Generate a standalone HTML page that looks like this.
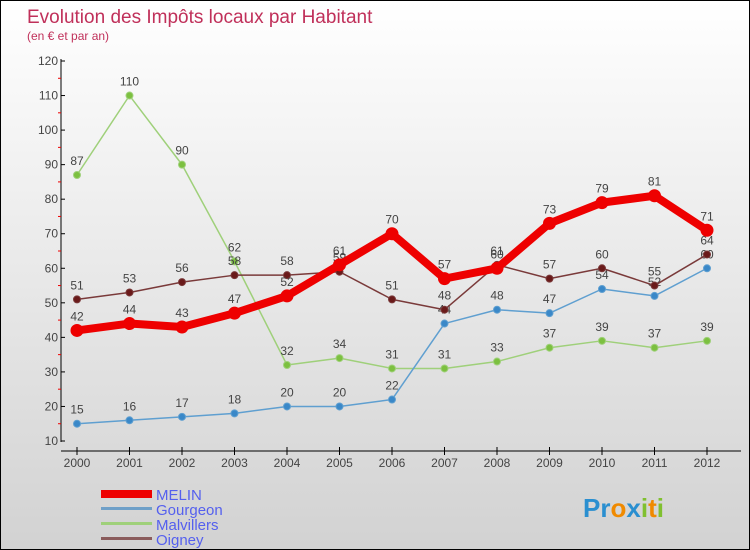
<!DOCTYPE html>
<html><head><meta charset="utf-8"><style>
body{margin:0}
#c{position:relative;width:748px;height:548px;border:1px solid #000;background:linear-gradient(#fff,#d2d2d2);font-family:"Liberation Sans",sans-serif;overflow:hidden}
</style></head><body>
<div id="c">
<svg width="748" height="548">
<text x="26" y="22" font-size="19" fill="#c0305a">Evolution des Impôts locaux par Habitant</text>
<text x="26" y="39" font-size="12" fill="#c0305a">(en € et par an)</text>
<g id="axes"></g><g id="series"></g>
<g>
<rect x="100" y="489" width="51" height="8" fill="#e00"/>
<text x="155" y="499" font-size="15" fill="#5560ee">MELIN</text>
<rect x="100" y="506" width="51" height="3" fill="#6fa0c8"/>
<text x="155" y="514" font-size="15" fill="#5560ee">Gourgeon</text>
<rect x="100" y="521" width="51" height="3" fill="#9fd07a"/>
<text x="155" y="529" font-size="15" fill="#5560ee">Malvillers</text>
<rect x="100" y="536" width="51" height="3" fill="#8a5c5c"/>
<text x="155" y="544" font-size="15" fill="#5560ee">Oigney</text>
</g>
<text x="582" y="516" font-size="26" font-weight="bold"><tspan fill="#2a8fd0">Pr</tspan><tspan fill="#f08a00">o</tspan><tspan fill="#2a8fd0">x</tspan><tspan fill="#80c030">i</tspan><tspan fill="#f08a00">t</tspan><tspan fill="#80c030">i</tspan></text>
</svg>
</div>
<script>
const years=["2000","2001","2002","2003","2004","2005","2006","2007","2008","2009","2010","2011","2012"];
const yTicks=[10,20,30,40,50,60,70,80,90,100,110,120];
const melin=[42,44,43,47,52,61,70,57,60,73,79,81,71];
const gourgeon=[15,16,17,18,20,20,22,44,48,47,54,52,60];
const malvillers=[87,110,90,62,32,34,31,31,33,37,39,37,39];
const oigney=[51,53,56,58,58,59,51,48,61,57,60,55,64];
const NS="http://www.w3.org/2000/svg";
const x=i=>76+i*52.5, y=v=>440-(v-10)*380/110;
function mk(t,a,p){const e=document.createElementNS(NS,t);for(const k in a)e.setAttribute(k,a[k]);p.appendChild(e);return e;}
const ax=document.getElementById('axes');
let e=mk('line',{x1:60,y1:58,x2:60,y2:441,stroke:'#000'},ax);


e=mk('line',{x1:60,y1:450,x2:740,y2:450,stroke:'#000'},ax);


yTicks.forEach((v,i)=>{
 mk('line',{x1:60,x2:64,y1:y(v),y2:y(v),stroke:'#000'},ax);
 if(i<yTicks.length-1) mk('line',{x1:57,x2:60,y1:y(v+5),y2:y(v+5),stroke:'#e00'},ax);
 const t=mk('text',{x:57,y:y(v)+4,'font-size':12,fill:'#444','text-anchor':'end'},ax);t.textContent=v;
 
 
});
years.forEach((yr,i)=>{
 mk('line',{x1:x(i),x2:x(i),y1:446,y2:454,stroke:'#000'},ax);
 const t=mk('text',{x:x(i),y:466,'font-size':12,fill:'#444','text-anchor':'middle'},ax);t.textContent=yr;
 
 
});
const sg=document.getElementById('series');
function draw(name,data,col,w,r,dot){
 const g=mk('g',{},sg);
 
 
 const p=mk('polyline',{points:data.map((v,i)=>x(i)+','+y(v)).join(' '),fill:'none',stroke:col,'stroke-width':w,'stroke-linejoin':'round'},g);
 
 
 data.forEach((v,i)=>{
  const c=mk('circle',{cx:x(i),cy:y(v),r:r,fill:dot,stroke:col,'stroke-width':1},g);
  
  
  const t=mk('text',{x:x(i),y:y(v)-10,'font-size':12,fill:'#444','text-anchor':'middle'},g);t.textContent=v;
  
  
 });
}
draw('malvillers',malvillers,'#9fd07a',1.5,3.5,'#7cc040');
draw('gourgeon',gourgeon,'#5f9fd0',1.5,3.5,'#3a88c8');
draw('oigney',oigney,'#7a3a3a',1.5,3.5,'#6a1a1a');
draw('melin',melin,'#e00',8,6,'#e00');
</script>
</body></html>
